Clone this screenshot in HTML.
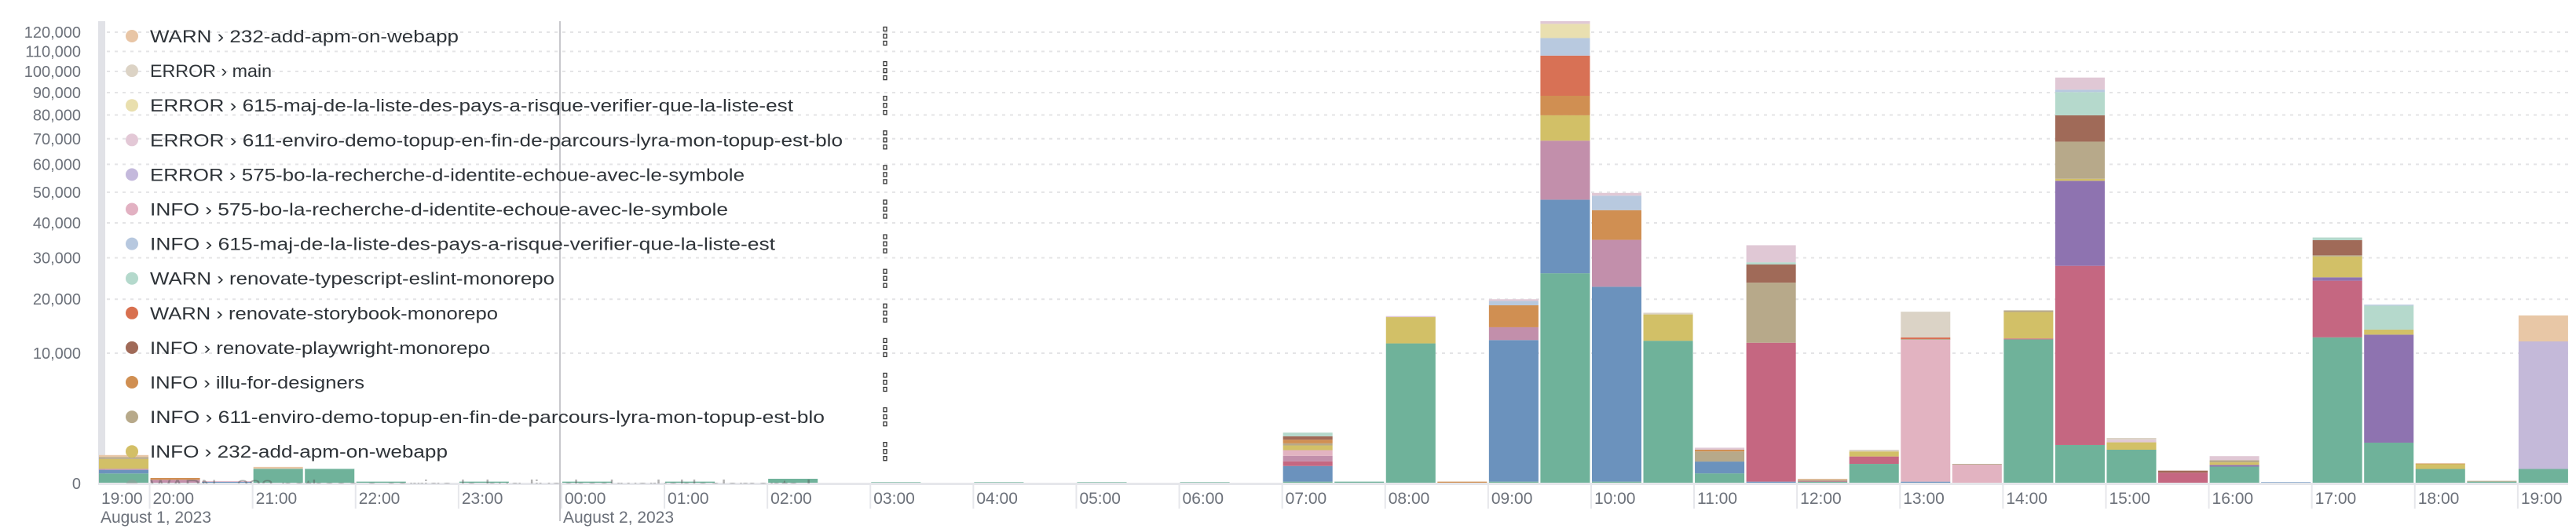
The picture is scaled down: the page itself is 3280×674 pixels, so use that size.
<!DOCTYPE html>
<html><head><meta charset="utf-8"><style>
html,body{margin:0;padding:0;background:#fff;}
svg{display:block;font-family:"Liberation Sans",sans-serif;}
</style></head><body>
<svg id="chart" width="3280" height="674" viewBox="0 0 3280 674" xmlns="http://www.w3.org/2000/svg">
<rect x="125" y="27" width="9" height="589" fill="#e1e2e7"/>
<g id="grid"></g>
<g id="yaxis"></g>
<g id="bars"></g>
<rect x="125" y="615" width="3145" height="3" fill="#e6e7eb"/>
<g id="xaxis"></g>
<line x1="713" y1="27" x2="713" y2="664" stroke="#c8c8cc" stroke-width="2"/>
<g id="legend"></g>
</svg>
<script>
const categories = ["19:30","20:00","20:30","21:00","21:30","22:00","22:30","23:00","23:30","00:00","00:30","01:00","01:30","02:00","02:30","03:00","03:30","04:00","04:30","05:00","05:30","06:00","06:30","07:00","07:30","08:00","08:30","09:00","09:30","10:00","10:30","11:00","11:30","12:00","12:30","13:00","13:30","14:00","14:30","15:00","15:30","16:00","16:30","17:00","17:30","18:00","18:30","19:00"];
const yTicks = [0,10000,20000,30000,40000,50000,60000,70000,80000,90000,100000,110000,120000];
const xTickLabels = ["20:00","21:00","22:00","23:00","00:00","01:00","02:00","03:00","04:00","05:00","06:00","07:00","08:00","09:00","10:00","11:00","12:00","13:00","14:00","15:00","16:00","17:00","18:00","19:00"];
const seriesNames = ["WARN › 232-nethsec","INFO › main","INFO › 575-playwright","INFO › 611-mauve","WARN › 575-purple","ERROR › 575-bo-la-recherche-d-identite-echoue-avec-le-symbole","INFO › 575-bo-la-recherche-d-identite-echoue-avec-le-symbole","INFO › 232-add-apm-on-webapp","INFO › 611-enviro-demo-topup-en-fin-de-parcours-lyra-mon-topup-est-blo","INFO › illu-for-designers","INFO › renovate-playwright-monorepo","WARN › renovate-storybook-monorepo","WARN › renovate-typescript-eslint-monorepo","INFO › 615-maj-de-la-liste-des-pays-a-risque-verifier-que-la-liste-est","ERROR › 615-maj-de-la-liste-des-pays-a-risque-verifier-que-la-liste-est","ERROR › 611-enviro-demo-topup-en-fin-de-parcours-lyra-mon-topup-est-blo","ERROR › main","WARN › 232-add-apm-on-webapp"];
const seriesColors = ["#6fb29a","#6b92bd","#c56781","#c28fab","#8e73b0","#c4b9d9","#e2b3c1","#d2c067","#b7a98a","#d08f52","#a06a58","#d87155","#b5d9cc","#b8c9df","#e9dfb0","#e0c8d5","#dbd3c6","#e8c7a6"];
const sGreen = [59,0,0,128,128,2,0,2, 0,2,0,2,0,13,0,1, 0,1,0,1,0,1,0,2, 2,11556,0,2,26040,2,12000,60, 0,2,226,0,0,12231,872,671, 0,168,0,12577,982,124,2,124];
const sBlue = [50,0,2,0,0,0,0,0, 0,0,0,0,0,0,0,0, 0,0,0,0,0,0,0,178, 0,0,0,12115,21410,22800,0,223, 2,0,0,2,0,0,0,0, 0,0,1,0,0,0,0,0];
const sPinkRed = [0,0,0,0,0,0,0,0, 0,0,0,0,0,0,0,0, 0,0,0,0,0,0,0,110, 0,0,0,0,0,0,0,0, 11663,2,203,0,0,150,27036,0, 69,0,0,11653,0,0,0,0];
const sMauve = [19,8,0,0,0,0,0,0, 0,0,0,0,0,0,0,0, 0,0,0,0,0,0,0,160, 0,0,0,2263,21790,12170,0,0, 0,0,0,0,0,0,0,0, 0,0,0,0,0,0,0,0];
const sPurple = [0,0,0,0,0,0,0,0, 0,0,0,0,0,0,0,0, 0,0,0,0,0,0,0,0, 0,0,0,0,0,0,0,0, 0,0,0,0,0,0,26067,0, 0,35,0,810,12064,0,0,0];
const sLavender = [0,0,0,0,0,0,0,0, 0,0,0,0,0,0,0,0, 0,0,0,0,0,0,0,0, 0,0,0,0,0,0,0,0, 0,0,0,0,0,0,0,0, 0,0,0,0,0,0,0,11765];
const sPink = [0,0,1,0,0,0,0,0, 0,0,0,0,0,0,0,0, 0,0,0,0,0,0,0,205, 0,0,0,0,0,0,0,0, 0,0,0,12283,210,0,0,0, 0,0,0,0,0,0,0,0];
const sYellow = [225,0,0,0,0,0,0,0, 0,0,0,0,0,0,0,0, 0,0,0,0,0,0,0,198, 0,4750,0,0,10610,0,4840,0, 0,0,176,0,0,4931,725,327, 0,60,0,5340,902,102,0,0];
const sTan = [60,0,0,0,0,0,0,0, 0,0,0,0,0,0,0,0, 0,0,0,0,0,0,0,95, 0,0,0,0,0,0,0,322, 12085,4,0,3,16,342,14140,0, 0,57,0,280,0,0,2,0];
const sOrange = [0,10,0,0,0,0,0,0, 0,0,0,0,0,0,0,0, 0,0,0,0,0,0,0,182, 0,0,2,4320,8710,9040,0,66, 0,3,0,0,0,0,0,0, 0,0,0,0,0,10,0,0];
const sBrown = [0,0,0,0,0,0,0,0, 0,0,0,0,0,0,0,0, 0,0,0,0,0,0,0,181, 0,0,0,0,0,0,0,0, 4505,0,0,0,0,0,11010,0, 28,0,0,4210,0,0,0,0];
const sRedOrange = [0,0,0,0,0,0,0,0, 0,0,0,0,0,0,0,0, 0,0,0,0,0,0,0,0, 0,0,0,0,19290,0,0,0, 0,0,0,273,0,0,0,0, 0,0,0,0,0,0,0,0];
const sMint = [0,0,0,0,3,0,0,0, 0,0,0,0,0,0,0,0, 0,0,0,0,0,0,0,213, 0,0,0,0,0,0,0,0, 570,0,0,0,0,0,10410,0, 0,0,0,780,4682,0,0,0];
const sLightBlue = [0,0,0,0,0,0,0,0, 0,0,0,0,0,0,0,0, 0,0,0,0,0,0,0,0, 0,0,0,933,9040,4800,0,0, 0,0,0,0,0,0,1120,0, 0,0,0,0,213,0,0,0];
const sCream = [0,0,0,0,0,0,0,0, 0,0,0,0,0,0,0,0, 0,0,0,0,0,0,0,0, 0,0,0,0,7570,0,0,0, 0,0,0,0,0,0,0,0, 0,0,0,0,0,0,0,0];
const sLightPink = [0,0,0,0,0,0,0,0, 0,0,0,0,0,0,0,0, 0,0,0,0,0,0,0,0, 0,200,0,367,1430,920,0,83, 4615,0,0,0,0,0,5700,132, 0,120,0,0,0,0,0,0];
const sBeige = [0,0,0,0,0,0,0,0, 0,0,0,0,0,0,0,0, 0,0,0,0,0,0,0,0, 0,0,0,0,0,0,335,0, 0,0,66,4819,0,0,0,92, 0,0,0,0,0,0,0,0];
const sPeach = [63,0,0,34,0,0,0,0, 0,0,0,0,0,0,0,0, 0,0,0,0,0,0,0,0, 0,0,0,0,0,0,0,0, 0,0,0,0,0,0,0,0, 0,0,0,0,0,0,0,4747];
const seriesValues = [sGreen,sBlue,sPinkRed,sMauve,sPurple,sLavender,sPink,sYellow,sTan,sOrange,sBrown,sRedOrange,sMint,sLightBlue,sCream,sLightPink,sBeige,sPeach];
const legendLabels = ["WARN › 232-add-apm-on-webapp","ERROR › main","ERROR › 615-maj-de-la-liste-des-pays-a-risque-verifier-que-la-liste-est","ERROR › 611-enviro-demo-topup-en-fin-de-parcours-lyra-mon-topup-est-blo","ERROR › 575-bo-la-recherche-d-identite-echoue-avec-le-symbole","INFO › 575-bo-la-recherche-d-identite-echoue-avec-le-symbole","INFO › 615-maj-de-la-liste-des-pays-a-risque-verifier-que-la-liste-est","WARN › renovate-typescript-eslint-monorepo","WARN › renovate-storybook-monorepo","INFO › renovate-playwright-monorepo","INFO › illu-for-designers","INFO › 611-enviro-demo-topup-en-fin-de-parcours-lyra-mon-topup-est-blo","INFO › 232-add-apm-on-webapp"];
const legendColors = ["#e8c5a5","#dcd3c5","#e9dfae","#e3c8d6","#c4b9dc","#e2b1c2","#b7c8df","#b4d9cc","#d8704f","#a06a58","#d08f52","#b7a98a","#d3bf66"];

const NS="http://www.w3.org/2000/svg";
const X0=125, BW=65.55, BASE=616, K=1.66;
function yScale(v){return BASE-K*Math.sqrt(v);}
function xScale(i){return X0+i*BW;}
function mk(tag,attrs,parent){const e=document.createElementNS(NS,tag);for(const k in attrs)e.setAttribute(k,attrs[k]);parent.appendChild(e);return e;}

const grid=document.getElementById('grid'), yax=document.getElementById('yaxis');
yTicks.forEach(t=>{
  const y=yScale(t);
  if(t>0){const l=mk('line',{x1:136,x2:3270,y1:y,y2:y,stroke:'#e4e4e6','stroke-width':2,'stroke-dasharray':'4 6'},grid);
  
  }
  const tx=mk('text',{x:103,y:y+7,'text-anchor':'end','font-size':20,fill:'#6c717a'},yax);
  
  
  tx.textContent=t.toLocaleString('en-US');
});

const bars=document.getElementById('bars');
categories.forEach((c,i)=>{
  let acc=0;
  seriesValues.forEach((arr,s)=>{
    const v=arr[i]; if(!v) return;
    const y1=yScale(acc+v), y0=yScale(acc); acc+=v;
    const r=mk('rect',{x:xScale(i)+1,y:y1,width:BW-2.5,height:Math.max(y0-y1,0.8),fill:seriesColors[s]},bars);
    
    
    const t=document.createElementNS(NS,'title');t.textContent=seriesNames[s]+' '+c+': '+v;r.appendChild(t);
  });
});

const xax=document.getElementById('xaxis');
const first=mk('text',{x:129,y:642,'font-size':21,fill:'#6c717a'},xax);


first.textContent='19:00';
xTickLabels.forEach((lab,j)=>{
  const x=xScale(1+2*j);
  const l=mk('line',{x1:x,x2:x,y1:618,y2:648,stroke:'#e6e7eb','stroke-width':2},xax);
  
  
  const t=mk('text',{x:x+4,y:642,'font-size':21,fill:'#6c717a'},xax);
  
  
  t.textContent=lab;
});
const d1=mk('text',{x:128,y:666,'font-size':21,fill:'#6c717a',textLength:141},xax);


d1.textContent='August 1, 2023';
const d2=mk('text',{x:717,y:666,'font-size':21,fill:'#6c717a',textLength:141},xax);


d2.textContent='August 2, 2023';

const leg=document.getElementById('legend');
const widths=[393,155,819,882,757,736,796,515,443,433,273,859,379];
function handle(y){
  const g=mk('g',{},leg);
  
  
  [-9,0,9].forEach(d=>mk('rect',{x:1125,y:y+d-2.5,width:4,height:5,fill:'none',stroke:'#333','stroke-width':1.3},g));
}
legendLabels.forEach((lab,i)=>{
  const y=46+i*44.1;
  const g=mk('g',{},leg);
  
  
  mk('circle',{cx:168,cy:y,r:8,fill:legendColors[i]},g);
  const t=mk('text',{x:191,y:y+8,'font-size':22,fill:'#2e3338',textLength:widths[i],lengthAdjust:'spacingAndGlyphs'},g);
  t.textContent=lab;
  handle(y);
});
const clip=mk('clipPath',{id:'lc'},leg);mk('rect',{x:0,y:0,width:1200,height:616},clip);
const hg=mk('g',{'clip-path':'url(#lc)',opacity:0.45},leg);


mk('circle',{cx:168,cy:619,r:8,fill:'#999'},hg);
const ht=mk('text',{x:191,y:627,'font-size':22,fill:'#555',textLength:870,lengthAdjust:'spacingAndGlyphs'},hg);
ht.textContent='WARN › 232-nethsec-o-corrige-le-bug-livecheckworkableelements-l…';
</script>
</body></html>
